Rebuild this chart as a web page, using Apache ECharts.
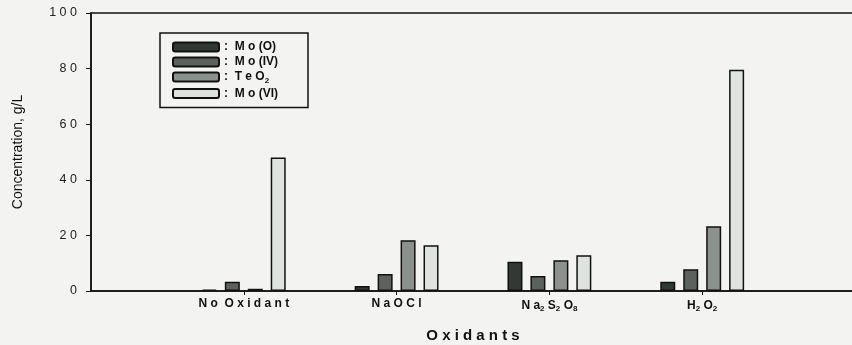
<!DOCTYPE html>
<html><head><meta charset="utf-8">
<script src="https://cdn.jsdelivr.net/npm/echarts@6/dist/echarts.min.js"></script>
<style>html,body{margin:0;padding:0;background:#f3f4f2;overflow:hidden}#c{width:852px;height:345px}</style>
</head><body><div id="c"></div>
<script>
const categories = ['', 'No Oxidant', 'NaOCl', 'Na2S2O8', 'H2O2', ''];
const categoryLabels = ['', 'N o  O x i d a n t', 'N a O C l', 'N a{s|2} S{s|2} O{s|8}', 'H{s|2} O{s|2}', ''];
const seriesNames = ['Mo(O)', 'Mo(IV)', 'TeO2', 'Mo(VI)'];
const seriesLabels = [':  M o (O)', ':  M o (IV)', ':  T e O{s|2}', ':  M o (VI)'];
const moO  = [null, 0.5, 1.8, 10.5, 3.3, null];
const moIV = [null, 3.3, 6.1, 5.4, 7.8, null];
const teO2 = [null, 0.8, 18.3, 11.1, 23.3, null];
const moVI = [null, 48.0, 16.5, 12.9, 79.6, null];
const yTicks = [0, 20, 40, 60, 80, 100];

const colors = ['#323834', '#5b625e', '#8b928d', '#dfe3df'];
const dataSets = [moO, moIV, teO2, moVI];
const rich = {s: {fontSize: 8, fontWeight: 'bold', color: '#111', verticalAlign: 'bottom', padding: [7, 0, 0, 0]}};
const chart = echarts.init(document.getElementById('c'));
chart.setOption({
  backgroundColor: '#f3f4f2',
  animation: false,
  grid: {left: 91, right: -3, top: 13, bottom: 54, outerBoundsMode: 'none', containLabel: false,
    show: true, borderColor: '#111', borderWidth: 1.5, backgroundColor: 'transparent'},
  legend: {
    data: seriesNames,
    orient: 'vertical', left: 160, top: 33,
    padding: [8, 30, 8, 12],
    itemWidth: 46, itemHeight: 9, itemGap: 3,
    borderColor: '#111', borderWidth: 1.5, backgroundColor: '#f3f4f2',
    formatter: function (n) { return seriesLabels[seriesNames.indexOf(n)]; },
    textStyle: {fontFamily: 'Liberation Sans, Arial', fontWeight: 'bold', fontSize: 12, color: '#111', rich: rich}
  },
  xAxis: {
    type: 'category', data: categories, boundaryGap: false,
    name: 'O x i d a n t s', nameLocation: 'middle', nameGap: 37,
    nameTextStyle: {fontFamily: 'Liberation Sans, Arial', fontWeight: 'bold', fontSize: 15, color: '#111'},
    axisLine: {lineStyle: {color: '#111', width: 1.5}},
    axisTick: {show: true, length: 4, lineStyle: {color: '#111'}, interval: function (i) { return i > 0 && i < 5; }},
    axisLabel: {interval: 0, margin: 7, fontFamily: 'Liberation Sans, Arial', fontWeight: 'bold', fontSize: 12, color: '#111',
      formatter: function (v, i) { return categoryLabels[i]; }, rich: rich},
    splitLine: {show: false}
  },
  yAxis: {
    type: 'value', min: 0, max: 100, interval: 20,
    name: 'Concentration, g/L', nameLocation: 'middle', nameGap: 66, nameRotate: 90,
    nameTextStyle: {fontFamily: 'Liberation Sans Narrow, Liberation Sans, Arial', fontSize: 14, color: '#111'},
    axisLine: {show: true, lineStyle: {color: '#111', width: 1.5}},
    axisTick: {show: true, length: 5, lineStyle: {color: '#111'}},
    axisLabel: {margin: 14, fontFamily: 'Liberation Sans, Arial', fontSize: 12.5, color: '#222',
      formatter: function (v) { return yTicks.indexOf(v) >= 0 ? String(v).split('').join(' ') : ''; }},
    splitLine: {show: false}
  },
  series: dataSets.map(function (d, i) {
    return {
      name: seriesNames[i], type: 'bar', data: d, barWidth: 15, barGap: '53%',
      itemStyle: {color: colors[i], borderColor: '#111', borderWidth: 1.5}
    };
  })
});
</script></body></html>
